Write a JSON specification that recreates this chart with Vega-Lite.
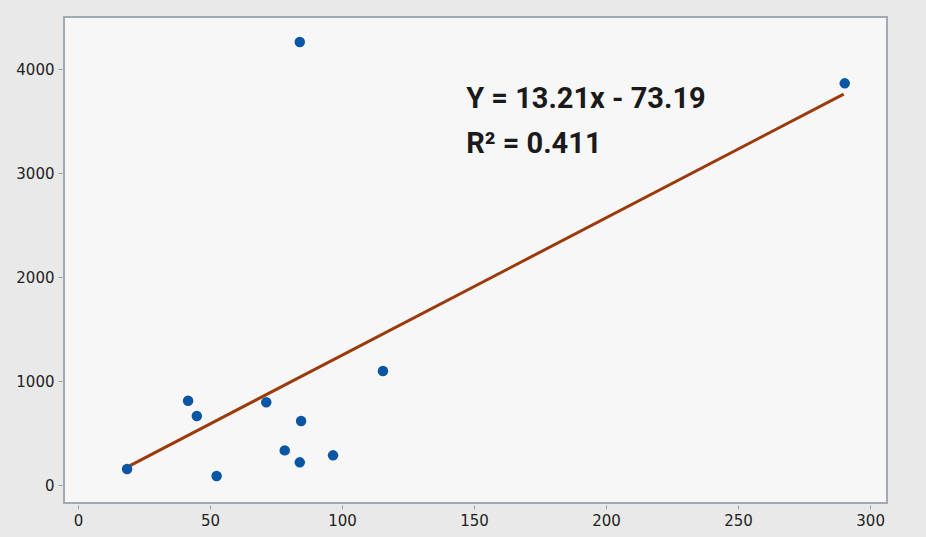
{
  "$schema": "https://vega.github.io/schema/vega-lite/v6.json",
  "width": 823,
  "height": 486,
  "autosize": {"type": "none"},
  "padding": {"left": 64, "top": 17, "right": 39, "bottom": 34},
  "background": "#e9e9e9",
  "config": {
    "view": {"fill": "#f7f7f7", "stroke": "#a3a9b0", "strokeWidth": 2},
    "axis": {
      "grid": false,
      "domain": false,
      "tickColor": "#9aa0a6",
      "tickSize": 4,
      "offset": 2,
      "labelFont": "DejaVu Sans",
      "labelFontSize": 15,
      "labelColor": "#222222",
      "labelPadding": 4,
      "format": "d",
      "title": null
    }
  },
  "datasets": {
    "points": [
      {"x": 18.6, "y": 154},
      {"x": 41.7, "y": 810},
      {"x": 45, "y": 663},
      {"x": 52.5, "y": 86},
      {"x": 71.3, "y": 795},
      {"x": 78.3, "y": 333},
      {"x": 84.5, "y": 615},
      {"x": 84, "y": 218},
      {"x": 96.6, "y": 285},
      {"x": 115.5, "y": 1096},
      {"x": 84, "y": 4260},
      {"x": 290.4, "y": 3862}
    ],
    "fit": [
      {"x": 19.7, "y": 187},
      {"x": 290, "y": 3758}
    ],
    "labels": [
      {"x": 147, "y": 3625, "text": "Y  = 13.21x - 73.19"},
      {"x": 147, "y": 3192, "text": "R² = 0.411"}
    ]
  },
  "layer": [
    {
      "data": {"name": "fit"},
      "mark": {"type": "line", "color": "#9c3a0c", "strokeWidth": 3},
      "encoding": {
        "x": {"field": "x", "type": "quantitative", "scale": {"domain": [-5.3, 306.4], "nice": false, "zero": false}, "axis": {"values": [0, 50, 100, 150, 200, 250, 300]}},
        "y": {"field": "y", "type": "quantitative", "scale": {"domain": [-173, 4500], "nice": false, "zero": false}, "axis": {"values": [0, 1000, 2000, 3000, 4000]}}
      }
    },
    {
      "data": {"name": "points"},
      "mark": {"type": "circle", "color": "#0a56a5", "opacity": 1, "size": 110},
      "encoding": {
        "x": {"field": "x", "type": "quantitative"},
        "y": {"field": "y", "type": "quantitative"}
      }
    },
    {
      "data": {"name": "labels"},
      "mark": {"type": "text", "align": "left", "baseline": "alphabetic", "font": "Roboto", "fontWeight": "bold", "fontSize": 29, "color": "#1a1a1a"},
      "encoding": {
        "x": {"field": "x", "type": "quantitative"},
        "y": {"field": "y", "type": "quantitative"},
        "text": {"field": "text"}
      }
    }
  ]
}
